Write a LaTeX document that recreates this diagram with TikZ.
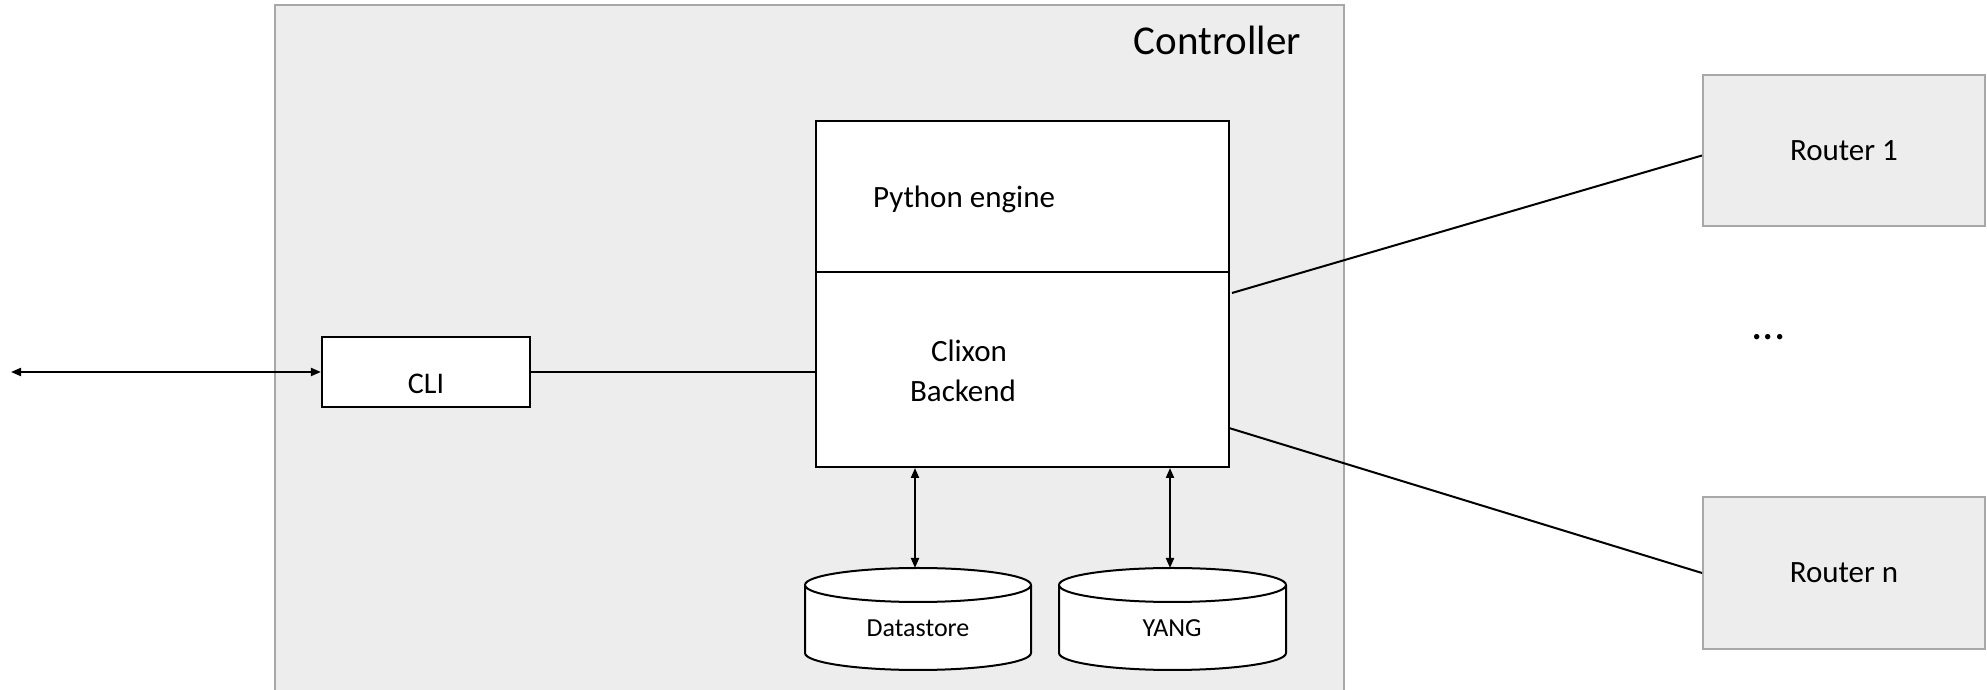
\documentclass[tikz,border=0pt]{standalone}
\usepackage{fontspec}
\setmainfont{Carlito}
\usetikzlibrary{arrows.meta,calc}
\definecolor{ctrlfill}{RGB}{237,237,237}
\definecolor{ctrlborder}{RGB}{168,168,168}
\tikzset{
  blackbox/.style={draw=black,line width=2.2pt,fill=white,inner sep=0pt},
  grayboxstyle/.style={draw=ctrlborder,line width=2pt,fill=ctrlfill,inner sep=0pt,font=\fontsize{31}{37}\selectfont},
  txt/.style={inner sep=0pt,font=\fontsize{31}{37}\selectfont},
  smalltxt/.style={inner sep=0pt,font=\fontsize{26}{31}\selectfont},
  conn/.style={draw=black,line width=2pt},
  dbl/.style={conn,{Triangle[length=10pt,width=8pt]}-{Triangle[length=10pt,width=8pt]}},
  cyl/.style={draw=black,line width=2pt,fill=white}
}
\begin{document}
\begin{tikzpicture}[x=1pt,y=1pt]
\useasboundingbox (0,0) rectangle (1987,690);
% Controller region
\begin{scope}
\clip (0,0) rectangle (1987,690);
\draw[draw=ctrlborder,line width=2pt,fill=ctrlfill] (275,-20) rectangle (1344,685);
\end{scope}
\node[txt,anchor=base east,font=\fontsize{41}{48}\selectfont] (ctrl) at (1301,635) {Controller};

% main block
\node[blackbox,minimum width=413,minimum height=151,anchor=south west] (engine) at (815,417) {};
\node[blackbox,minimum width=413,minimum height=195,anchor=south west] (backend) at (815,222) {};
\node[txt,anchor=base west] (enginelbl) at (873,482) {Python engine};
\node[txt,anchor=base] (clixonlbl) at (969,328) {Clixon};
\node[txt,anchor=base] (backendlbl) at (963,288) {Backend};

% CLI
\node[blackbox,minimum width=208,minimum height=70,text height=44pt,text depth=0pt,
      font=\fontsize{30}{36}\selectfont] (cli) at (426,318) {CLI};
\coordinate (ext) at (11,318);
\draw[dbl] (ext) -- (cli.west);
\draw[conn] (cli.east) -- (cli.east -| backend.west);

% routers
\node[grayboxstyle,minimum width=282,minimum height=151] (router1) at (1844,539.5) {Router 1};
\node[grayboxstyle,minimum width=282,minimum height=152] (routern) at (1844,117) {Router n};
\node[txt,anchor=base,font=\fontsize{45}{50}\selectfont] (dots) at (1768.5,350) {...};
\coordinate (l1s) at (1232,397);
\coordinate (l2s) at (1229,262);
\draw[conn] (l1s) -- ([yshift=-5pt]router1.west);
\draw[conn] (l2s) -- (routern.west);

% cylinders
\draw[cyl] (805,105) -- (805,37) arc[start angle=180,end angle=360,x radius=113,y radius=17]
  -- (1031,105) arc[start angle=0,end angle=180,x radius=113,y radius=17] -- cycle;
\draw[cyl] (805,105) arc[start angle=180,end angle=360,x radius=113,y radius=17];
\draw[cyl] (1059,105) -- (1059,37) arc[start angle=180,end angle=360,x radius=113.5,y radius=17]
  -- (1286,105) arc[start angle=0,end angle=180,x radius=113.5,y radius=17] -- cycle;
\draw[cyl] (1059,105) arc[start angle=180,end angle=360,x radius=113.5,y radius=17];
\node[smalltxt,anchor=base] (ds) at (918,53) {Datastore};
\node[smalltxt,anchor=base] (yang) at (1172,53) {YANG};
\coordinate (dstop) at (915,122);
\coordinate (yangtop) at (1170,122);
\draw[dbl] (dstop |- backend.south) -- (dstop);
\draw[dbl] (yangtop |- backend.south) -- (yangtop);
\end{tikzpicture}
\end{document}
